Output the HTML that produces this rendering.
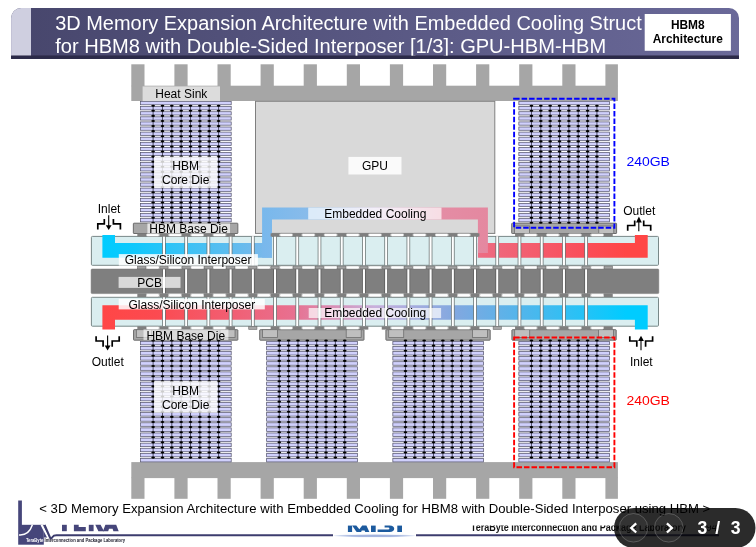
<!DOCTYPE html>
<html><head><meta charset="utf-8"><title>HBM8 Architecture</title>
<style>html,body{margin:0;padding:0;background:#fff;width:756px;height:547px;overflow:hidden}svg{display:block;font-family:"Liberation Sans",sans-serif;will-change:transform;transform:translateZ(0)}</style>
</head><body>
<svg width="756" height="547" viewBox="0 0 756 547">
<defs>
<g id="stkT">
<rect x="0.3" y="0.35" width="90.7" height="3.25" fill="#d0d0fc" stroke="#505068" stroke-width="0.7"/>
<rect x="0.3" y="5.44" width="90.7" height="3.25" fill="#d0d0fc" stroke="#505068" stroke-width="0.7"/>
<rect x="0.3" y="10.53" width="90.7" height="3.25" fill="#d0d0fc" stroke="#505068" stroke-width="0.7"/>
<rect x="0.3" y="15.62" width="90.7" height="3.25" fill="#d0d0fc" stroke="#505068" stroke-width="0.7"/>
<rect x="0.3" y="20.71" width="90.7" height="3.25" fill="#d0d0fc" stroke="#505068" stroke-width="0.7"/>
<rect x="0.3" y="25.8" width="90.7" height="3.25" fill="#d0d0fc" stroke="#505068" stroke-width="0.7"/>
<rect x="0.3" y="30.89" width="90.7" height="3.25" fill="#d0d0fc" stroke="#505068" stroke-width="0.7"/>
<rect x="0.3" y="35.98" width="90.7" height="3.25" fill="#d0d0fc" stroke="#505068" stroke-width="0.7"/>
<rect x="0.3" y="41.07" width="90.7" height="3.25" fill="#d0d0fc" stroke="#505068" stroke-width="0.7"/>
<rect x="0.3" y="46.16" width="90.7" height="3.25" fill="#d0d0fc" stroke="#505068" stroke-width="0.7"/>
<rect x="0.3" y="51.25" width="90.7" height="3.25" fill="#d0d0fc" stroke="#505068" stroke-width="0.7"/>
<rect x="0.3" y="56.34" width="90.7" height="3.25" fill="#d0d0fc" stroke="#505068" stroke-width="0.7"/>
<rect x="0.3" y="61.43" width="90.7" height="3.25" fill="#d0d0fc" stroke="#505068" stroke-width="0.7"/>
<rect x="0.3" y="66.52" width="90.7" height="3.25" fill="#d0d0fc" stroke="#505068" stroke-width="0.7"/>
<rect x="0.3" y="71.61" width="90.7" height="3.25" fill="#d0d0fc" stroke="#505068" stroke-width="0.7"/>
<rect x="0.3" y="76.7" width="90.7" height="3.25" fill="#d0d0fc" stroke="#505068" stroke-width="0.7"/>
<rect x="0.3" y="81.79" width="90.7" height="3.25" fill="#d0d0fc" stroke="#505068" stroke-width="0.7"/>
<rect x="0.3" y="86.88" width="90.7" height="3.25" fill="#d0d0fc" stroke="#505068" stroke-width="0.7"/>
<rect x="0.3" y="91.97" width="90.7" height="3.25" fill="#d0d0fc" stroke="#505068" stroke-width="0.7"/>
<rect x="0.3" y="97.06" width="90.7" height="3.25" fill="#d0d0fc" stroke="#505068" stroke-width="0.7"/>
<rect x="0.3" y="102.15" width="90.7" height="3.25" fill="#d0d0fc" stroke="#505068" stroke-width="0.7"/>
<rect x="0.3" y="107.24" width="90.7" height="3.25" fill="#d0d0fc" stroke="#505068" stroke-width="0.7"/>
<rect x="0.3" y="112.33" width="90.7" height="3.25" fill="#d0d0fc" stroke="#505068" stroke-width="0.7"/>
<rect x="0.3" y="117.42" width="90.7" height="3.25" fill="#d0d0fc" stroke="#505068" stroke-width="0.7"/>
<line x1="12.92" y1="3.95" x2="12.92" y2="121.62" stroke="#26263a" stroke-opacity="0.78" stroke-width="0.95"/>
<ellipse cx="12.92" cy="4.52" rx="1.85" ry="1.05" fill="#000"/>
<ellipse cx="12.92" cy="9.61" rx="1.85" ry="1.05" fill="#000"/>
<ellipse cx="12.92" cy="14.7" rx="1.85" ry="1.05" fill="#000"/>
<ellipse cx="12.92" cy="19.79" rx="1.85" ry="1.05" fill="#000"/>
<ellipse cx="12.92" cy="24.88" rx="1.85" ry="1.05" fill="#000"/>
<ellipse cx="12.92" cy="29.97" rx="1.85" ry="1.05" fill="#000"/>
<ellipse cx="12.92" cy="35.06" rx="1.85" ry="1.05" fill="#000"/>
<ellipse cx="12.92" cy="40.15" rx="1.85" ry="1.05" fill="#000"/>
<ellipse cx="12.92" cy="45.24" rx="1.85" ry="1.05" fill="#000"/>
<ellipse cx="12.92" cy="50.33" rx="1.85" ry="1.05" fill="#000"/>
<ellipse cx="12.92" cy="55.42" rx="1.85" ry="1.05" fill="#000"/>
<ellipse cx="12.92" cy="60.51" rx="1.85" ry="1.05" fill="#000"/>
<ellipse cx="12.92" cy="65.6" rx="1.85" ry="1.05" fill="#000"/>
<ellipse cx="12.92" cy="70.69" rx="1.85" ry="1.05" fill="#000"/>
<ellipse cx="12.92" cy="75.78" rx="1.85" ry="1.05" fill="#000"/>
<ellipse cx="12.92" cy="80.87" rx="1.85" ry="1.05" fill="#000"/>
<ellipse cx="12.92" cy="85.96" rx="1.85" ry="1.05" fill="#000"/>
<ellipse cx="12.92" cy="91.05" rx="1.85" ry="1.05" fill="#000"/>
<ellipse cx="12.92" cy="96.14" rx="1.85" ry="1.05" fill="#000"/>
<ellipse cx="12.92" cy="101.23" rx="1.85" ry="1.05" fill="#000"/>
<ellipse cx="12.92" cy="106.32" rx="1.85" ry="1.05" fill="#000"/>
<ellipse cx="12.92" cy="111.41" rx="1.85" ry="1.05" fill="#000"/>
<ellipse cx="12.92" cy="116.5" rx="1.85" ry="1.05" fill="#000"/>
<ellipse cx="12.92" cy="121.59" rx="1.85" ry="1.05" fill="#000"/>
<line x1="22.27" y1="3.95" x2="22.27" y2="121.62" stroke="#26263a" stroke-opacity="0.78" stroke-width="0.95"/>
<ellipse cx="22.27" cy="4.52" rx="1.85" ry="1.05" fill="#000"/>
<ellipse cx="22.27" cy="9.61" rx="1.85" ry="1.05" fill="#000"/>
<ellipse cx="22.27" cy="14.7" rx="1.85" ry="1.05" fill="#000"/>
<ellipse cx="22.27" cy="19.79" rx="1.85" ry="1.05" fill="#000"/>
<ellipse cx="22.27" cy="24.88" rx="1.85" ry="1.05" fill="#000"/>
<ellipse cx="22.27" cy="29.97" rx="1.85" ry="1.05" fill="#000"/>
<ellipse cx="22.27" cy="35.06" rx="1.85" ry="1.05" fill="#000"/>
<ellipse cx="22.27" cy="40.15" rx="1.85" ry="1.05" fill="#000"/>
<ellipse cx="22.27" cy="45.24" rx="1.85" ry="1.05" fill="#000"/>
<ellipse cx="22.27" cy="50.33" rx="1.85" ry="1.05" fill="#000"/>
<ellipse cx="22.27" cy="55.42" rx="1.85" ry="1.05" fill="#000"/>
<ellipse cx="22.27" cy="60.51" rx="1.85" ry="1.05" fill="#000"/>
<ellipse cx="22.27" cy="65.6" rx="1.85" ry="1.05" fill="#000"/>
<ellipse cx="22.27" cy="70.69" rx="1.85" ry="1.05" fill="#000"/>
<ellipse cx="22.27" cy="75.78" rx="1.85" ry="1.05" fill="#000"/>
<ellipse cx="22.27" cy="80.87" rx="1.85" ry="1.05" fill="#000"/>
<ellipse cx="22.27" cy="85.96" rx="1.85" ry="1.05" fill="#000"/>
<ellipse cx="22.27" cy="91.05" rx="1.85" ry="1.05" fill="#000"/>
<ellipse cx="22.27" cy="96.14" rx="1.85" ry="1.05" fill="#000"/>
<ellipse cx="22.27" cy="101.23" rx="1.85" ry="1.05" fill="#000"/>
<ellipse cx="22.27" cy="106.32" rx="1.85" ry="1.05" fill="#000"/>
<ellipse cx="22.27" cy="111.41" rx="1.85" ry="1.05" fill="#000"/>
<ellipse cx="22.27" cy="116.5" rx="1.85" ry="1.05" fill="#000"/>
<ellipse cx="22.27" cy="121.59" rx="1.85" ry="1.05" fill="#000"/>
<line x1="31.62" y1="3.95" x2="31.62" y2="121.62" stroke="#26263a" stroke-opacity="0.78" stroke-width="0.95"/>
<ellipse cx="31.62" cy="4.52" rx="1.85" ry="1.05" fill="#000"/>
<ellipse cx="31.62" cy="9.61" rx="1.85" ry="1.05" fill="#000"/>
<ellipse cx="31.62" cy="14.7" rx="1.85" ry="1.05" fill="#000"/>
<ellipse cx="31.62" cy="19.79" rx="1.85" ry="1.05" fill="#000"/>
<ellipse cx="31.62" cy="24.88" rx="1.85" ry="1.05" fill="#000"/>
<ellipse cx="31.62" cy="29.97" rx="1.85" ry="1.05" fill="#000"/>
<ellipse cx="31.62" cy="35.06" rx="1.85" ry="1.05" fill="#000"/>
<ellipse cx="31.62" cy="40.15" rx="1.85" ry="1.05" fill="#000"/>
<ellipse cx="31.62" cy="45.24" rx="1.85" ry="1.05" fill="#000"/>
<ellipse cx="31.62" cy="50.33" rx="1.85" ry="1.05" fill="#000"/>
<ellipse cx="31.62" cy="55.42" rx="1.85" ry="1.05" fill="#000"/>
<ellipse cx="31.62" cy="60.51" rx="1.85" ry="1.05" fill="#000"/>
<ellipse cx="31.62" cy="65.6" rx="1.85" ry="1.05" fill="#000"/>
<ellipse cx="31.62" cy="70.69" rx="1.85" ry="1.05" fill="#000"/>
<ellipse cx="31.62" cy="75.78" rx="1.85" ry="1.05" fill="#000"/>
<ellipse cx="31.62" cy="80.87" rx="1.85" ry="1.05" fill="#000"/>
<ellipse cx="31.62" cy="85.96" rx="1.85" ry="1.05" fill="#000"/>
<ellipse cx="31.62" cy="91.05" rx="1.85" ry="1.05" fill="#000"/>
<ellipse cx="31.62" cy="96.14" rx="1.85" ry="1.05" fill="#000"/>
<ellipse cx="31.62" cy="101.23" rx="1.85" ry="1.05" fill="#000"/>
<ellipse cx="31.62" cy="106.32" rx="1.85" ry="1.05" fill="#000"/>
<ellipse cx="31.62" cy="111.41" rx="1.85" ry="1.05" fill="#000"/>
<ellipse cx="31.62" cy="116.5" rx="1.85" ry="1.05" fill="#000"/>
<ellipse cx="31.62" cy="121.59" rx="1.85" ry="1.05" fill="#000"/>
<line x1="40.98" y1="3.95" x2="40.98" y2="121.62" stroke="#26263a" stroke-opacity="0.78" stroke-width="0.95"/>
<ellipse cx="40.98" cy="4.52" rx="1.85" ry="1.05" fill="#000"/>
<ellipse cx="40.98" cy="9.61" rx="1.85" ry="1.05" fill="#000"/>
<ellipse cx="40.98" cy="14.7" rx="1.85" ry="1.05" fill="#000"/>
<ellipse cx="40.98" cy="19.79" rx="1.85" ry="1.05" fill="#000"/>
<ellipse cx="40.98" cy="24.88" rx="1.85" ry="1.05" fill="#000"/>
<ellipse cx="40.98" cy="29.97" rx="1.85" ry="1.05" fill="#000"/>
<ellipse cx="40.98" cy="35.06" rx="1.85" ry="1.05" fill="#000"/>
<ellipse cx="40.98" cy="40.15" rx="1.85" ry="1.05" fill="#000"/>
<ellipse cx="40.98" cy="45.24" rx="1.85" ry="1.05" fill="#000"/>
<ellipse cx="40.98" cy="50.33" rx="1.85" ry="1.05" fill="#000"/>
<ellipse cx="40.98" cy="55.42" rx="1.85" ry="1.05" fill="#000"/>
<ellipse cx="40.98" cy="60.51" rx="1.85" ry="1.05" fill="#000"/>
<ellipse cx="40.98" cy="65.6" rx="1.85" ry="1.05" fill="#000"/>
<ellipse cx="40.98" cy="70.69" rx="1.85" ry="1.05" fill="#000"/>
<ellipse cx="40.98" cy="75.78" rx="1.85" ry="1.05" fill="#000"/>
<ellipse cx="40.98" cy="80.87" rx="1.85" ry="1.05" fill="#000"/>
<ellipse cx="40.98" cy="85.96" rx="1.85" ry="1.05" fill="#000"/>
<ellipse cx="40.98" cy="91.05" rx="1.85" ry="1.05" fill="#000"/>
<ellipse cx="40.98" cy="96.14" rx="1.85" ry="1.05" fill="#000"/>
<ellipse cx="40.98" cy="101.23" rx="1.85" ry="1.05" fill="#000"/>
<ellipse cx="40.98" cy="106.32" rx="1.85" ry="1.05" fill="#000"/>
<ellipse cx="40.98" cy="111.41" rx="1.85" ry="1.05" fill="#000"/>
<ellipse cx="40.98" cy="116.5" rx="1.85" ry="1.05" fill="#000"/>
<ellipse cx="40.98" cy="121.59" rx="1.85" ry="1.05" fill="#000"/>
<line x1="50.32" y1="3.95" x2="50.32" y2="121.62" stroke="#26263a" stroke-opacity="0.78" stroke-width="0.95"/>
<ellipse cx="50.32" cy="4.52" rx="1.85" ry="1.05" fill="#000"/>
<ellipse cx="50.32" cy="9.61" rx="1.85" ry="1.05" fill="#000"/>
<ellipse cx="50.32" cy="14.7" rx="1.85" ry="1.05" fill="#000"/>
<ellipse cx="50.32" cy="19.79" rx="1.85" ry="1.05" fill="#000"/>
<ellipse cx="50.32" cy="24.88" rx="1.85" ry="1.05" fill="#000"/>
<ellipse cx="50.32" cy="29.97" rx="1.85" ry="1.05" fill="#000"/>
<ellipse cx="50.32" cy="35.06" rx="1.85" ry="1.05" fill="#000"/>
<ellipse cx="50.32" cy="40.15" rx="1.85" ry="1.05" fill="#000"/>
<ellipse cx="50.32" cy="45.24" rx="1.85" ry="1.05" fill="#000"/>
<ellipse cx="50.32" cy="50.33" rx="1.85" ry="1.05" fill="#000"/>
<ellipse cx="50.32" cy="55.42" rx="1.85" ry="1.05" fill="#000"/>
<ellipse cx="50.32" cy="60.51" rx="1.85" ry="1.05" fill="#000"/>
<ellipse cx="50.32" cy="65.6" rx="1.85" ry="1.05" fill="#000"/>
<ellipse cx="50.32" cy="70.69" rx="1.85" ry="1.05" fill="#000"/>
<ellipse cx="50.32" cy="75.78" rx="1.85" ry="1.05" fill="#000"/>
<ellipse cx="50.32" cy="80.87" rx="1.85" ry="1.05" fill="#000"/>
<ellipse cx="50.32" cy="85.96" rx="1.85" ry="1.05" fill="#000"/>
<ellipse cx="50.32" cy="91.05" rx="1.85" ry="1.05" fill="#000"/>
<ellipse cx="50.32" cy="96.14" rx="1.85" ry="1.05" fill="#000"/>
<ellipse cx="50.32" cy="101.23" rx="1.85" ry="1.05" fill="#000"/>
<ellipse cx="50.32" cy="106.32" rx="1.85" ry="1.05" fill="#000"/>
<ellipse cx="50.32" cy="111.41" rx="1.85" ry="1.05" fill="#000"/>
<ellipse cx="50.32" cy="116.5" rx="1.85" ry="1.05" fill="#000"/>
<ellipse cx="50.32" cy="121.59" rx="1.85" ry="1.05" fill="#000"/>
<line x1="59.67" y1="3.95" x2="59.67" y2="121.62" stroke="#26263a" stroke-opacity="0.78" stroke-width="0.95"/>
<ellipse cx="59.67" cy="4.52" rx="1.85" ry="1.05" fill="#000"/>
<ellipse cx="59.67" cy="9.61" rx="1.85" ry="1.05" fill="#000"/>
<ellipse cx="59.67" cy="14.7" rx="1.85" ry="1.05" fill="#000"/>
<ellipse cx="59.67" cy="19.79" rx="1.85" ry="1.05" fill="#000"/>
<ellipse cx="59.67" cy="24.88" rx="1.85" ry="1.05" fill="#000"/>
<ellipse cx="59.67" cy="29.97" rx="1.85" ry="1.05" fill="#000"/>
<ellipse cx="59.67" cy="35.06" rx="1.85" ry="1.05" fill="#000"/>
<ellipse cx="59.67" cy="40.15" rx="1.85" ry="1.05" fill="#000"/>
<ellipse cx="59.67" cy="45.24" rx="1.85" ry="1.05" fill="#000"/>
<ellipse cx="59.67" cy="50.33" rx="1.85" ry="1.05" fill="#000"/>
<ellipse cx="59.67" cy="55.42" rx="1.85" ry="1.05" fill="#000"/>
<ellipse cx="59.67" cy="60.51" rx="1.85" ry="1.05" fill="#000"/>
<ellipse cx="59.67" cy="65.6" rx="1.85" ry="1.05" fill="#000"/>
<ellipse cx="59.67" cy="70.69" rx="1.85" ry="1.05" fill="#000"/>
<ellipse cx="59.67" cy="75.78" rx="1.85" ry="1.05" fill="#000"/>
<ellipse cx="59.67" cy="80.87" rx="1.85" ry="1.05" fill="#000"/>
<ellipse cx="59.67" cy="85.96" rx="1.85" ry="1.05" fill="#000"/>
<ellipse cx="59.67" cy="91.05" rx="1.85" ry="1.05" fill="#000"/>
<ellipse cx="59.67" cy="96.14" rx="1.85" ry="1.05" fill="#000"/>
<ellipse cx="59.67" cy="101.23" rx="1.85" ry="1.05" fill="#000"/>
<ellipse cx="59.67" cy="106.32" rx="1.85" ry="1.05" fill="#000"/>
<ellipse cx="59.67" cy="111.41" rx="1.85" ry="1.05" fill="#000"/>
<ellipse cx="59.67" cy="116.5" rx="1.85" ry="1.05" fill="#000"/>
<ellipse cx="59.67" cy="121.59" rx="1.85" ry="1.05" fill="#000"/>
<line x1="69.03" y1="3.95" x2="69.03" y2="121.62" stroke="#26263a" stroke-opacity="0.78" stroke-width="0.95"/>
<ellipse cx="69.03" cy="4.52" rx="1.85" ry="1.05" fill="#000"/>
<ellipse cx="69.03" cy="9.61" rx="1.85" ry="1.05" fill="#000"/>
<ellipse cx="69.03" cy="14.7" rx="1.85" ry="1.05" fill="#000"/>
<ellipse cx="69.03" cy="19.79" rx="1.85" ry="1.05" fill="#000"/>
<ellipse cx="69.03" cy="24.88" rx="1.85" ry="1.05" fill="#000"/>
<ellipse cx="69.03" cy="29.97" rx="1.85" ry="1.05" fill="#000"/>
<ellipse cx="69.03" cy="35.06" rx="1.85" ry="1.05" fill="#000"/>
<ellipse cx="69.03" cy="40.15" rx="1.85" ry="1.05" fill="#000"/>
<ellipse cx="69.03" cy="45.24" rx="1.85" ry="1.05" fill="#000"/>
<ellipse cx="69.03" cy="50.33" rx="1.85" ry="1.05" fill="#000"/>
<ellipse cx="69.03" cy="55.42" rx="1.85" ry="1.05" fill="#000"/>
<ellipse cx="69.03" cy="60.51" rx="1.85" ry="1.05" fill="#000"/>
<ellipse cx="69.03" cy="65.6" rx="1.85" ry="1.05" fill="#000"/>
<ellipse cx="69.03" cy="70.69" rx="1.85" ry="1.05" fill="#000"/>
<ellipse cx="69.03" cy="75.78" rx="1.85" ry="1.05" fill="#000"/>
<ellipse cx="69.03" cy="80.87" rx="1.85" ry="1.05" fill="#000"/>
<ellipse cx="69.03" cy="85.96" rx="1.85" ry="1.05" fill="#000"/>
<ellipse cx="69.03" cy="91.05" rx="1.85" ry="1.05" fill="#000"/>
<ellipse cx="69.03" cy="96.14" rx="1.85" ry="1.05" fill="#000"/>
<ellipse cx="69.03" cy="101.23" rx="1.85" ry="1.05" fill="#000"/>
<ellipse cx="69.03" cy="106.32" rx="1.85" ry="1.05" fill="#000"/>
<ellipse cx="69.03" cy="111.41" rx="1.85" ry="1.05" fill="#000"/>
<ellipse cx="69.03" cy="116.5" rx="1.85" ry="1.05" fill="#000"/>
<ellipse cx="69.03" cy="121.59" rx="1.85" ry="1.05" fill="#000"/>
<line x1="78.38" y1="3.95" x2="78.38" y2="121.62" stroke="#26263a" stroke-opacity="0.78" stroke-width="0.95"/>
<ellipse cx="78.38" cy="4.52" rx="1.85" ry="1.05" fill="#000"/>
<ellipse cx="78.38" cy="9.61" rx="1.85" ry="1.05" fill="#000"/>
<ellipse cx="78.38" cy="14.7" rx="1.85" ry="1.05" fill="#000"/>
<ellipse cx="78.38" cy="19.79" rx="1.85" ry="1.05" fill="#000"/>
<ellipse cx="78.38" cy="24.88" rx="1.85" ry="1.05" fill="#000"/>
<ellipse cx="78.38" cy="29.97" rx="1.85" ry="1.05" fill="#000"/>
<ellipse cx="78.38" cy="35.06" rx="1.85" ry="1.05" fill="#000"/>
<ellipse cx="78.38" cy="40.15" rx="1.85" ry="1.05" fill="#000"/>
<ellipse cx="78.38" cy="45.24" rx="1.85" ry="1.05" fill="#000"/>
<ellipse cx="78.38" cy="50.33" rx="1.85" ry="1.05" fill="#000"/>
<ellipse cx="78.38" cy="55.42" rx="1.85" ry="1.05" fill="#000"/>
<ellipse cx="78.38" cy="60.51" rx="1.85" ry="1.05" fill="#000"/>
<ellipse cx="78.38" cy="65.6" rx="1.85" ry="1.05" fill="#000"/>
<ellipse cx="78.38" cy="70.69" rx="1.85" ry="1.05" fill="#000"/>
<ellipse cx="78.38" cy="75.78" rx="1.85" ry="1.05" fill="#000"/>
<ellipse cx="78.38" cy="80.87" rx="1.85" ry="1.05" fill="#000"/>
<ellipse cx="78.38" cy="85.96" rx="1.85" ry="1.05" fill="#000"/>
<ellipse cx="78.38" cy="91.05" rx="1.85" ry="1.05" fill="#000"/>
<ellipse cx="78.38" cy="96.14" rx="1.85" ry="1.05" fill="#000"/>
<ellipse cx="78.38" cy="101.23" rx="1.85" ry="1.05" fill="#000"/>
<ellipse cx="78.38" cy="106.32" rx="1.85" ry="1.05" fill="#000"/>
<ellipse cx="78.38" cy="111.41" rx="1.85" ry="1.05" fill="#000"/>
<ellipse cx="78.38" cy="116.5" rx="1.85" ry="1.05" fill="#000"/>
<ellipse cx="78.38" cy="121.59" rx="1.85" ry="1.05" fill="#000"/>
</g>
<g id="stkB">
<rect x="0.3" y="0.35" width="90.7" height="3.5" fill="#d0d0fc" stroke="#505068" stroke-width="0.7"/>
<rect x="0.3" y="5.44" width="90.7" height="3.5" fill="#d0d0fc" stroke="#505068" stroke-width="0.7"/>
<rect x="0.3" y="10.53" width="90.7" height="3.5" fill="#d0d0fc" stroke="#505068" stroke-width="0.7"/>
<rect x="0.3" y="15.62" width="90.7" height="3.5" fill="#d0d0fc" stroke="#505068" stroke-width="0.7"/>
<rect x="0.3" y="20.71" width="90.7" height="3.5" fill="#d0d0fc" stroke="#505068" stroke-width="0.7"/>
<rect x="0.3" y="25.8" width="90.7" height="3.5" fill="#d0d0fc" stroke="#505068" stroke-width="0.7"/>
<rect x="0.3" y="30.89" width="90.7" height="3.5" fill="#d0d0fc" stroke="#505068" stroke-width="0.7"/>
<rect x="0.3" y="35.98" width="90.7" height="3.5" fill="#d0d0fc" stroke="#505068" stroke-width="0.7"/>
<rect x="0.3" y="41.07" width="90.7" height="3.5" fill="#d0d0fc" stroke="#505068" stroke-width="0.7"/>
<rect x="0.3" y="46.16" width="90.7" height="3.5" fill="#d0d0fc" stroke="#505068" stroke-width="0.7"/>
<rect x="0.3" y="51.25" width="90.7" height="3.5" fill="#d0d0fc" stroke="#505068" stroke-width="0.7"/>
<rect x="0.3" y="56.34" width="90.7" height="3.5" fill="#d0d0fc" stroke="#505068" stroke-width="0.7"/>
<rect x="0.3" y="61.43" width="90.7" height="3.5" fill="#d0d0fc" stroke="#505068" stroke-width="0.7"/>
<rect x="0.3" y="66.52" width="90.7" height="3.5" fill="#d0d0fc" stroke="#505068" stroke-width="0.7"/>
<rect x="0.3" y="71.61" width="90.7" height="3.5" fill="#d0d0fc" stroke="#505068" stroke-width="0.7"/>
<rect x="0.3" y="76.7" width="90.7" height="3.5" fill="#d0d0fc" stroke="#505068" stroke-width="0.7"/>
<rect x="0.3" y="81.79" width="90.7" height="3.5" fill="#d0d0fc" stroke="#505068" stroke-width="0.7"/>
<rect x="0.3" y="86.88" width="90.7" height="3.5" fill="#d0d0fc" stroke="#505068" stroke-width="0.7"/>
<rect x="0.3" y="91.97" width="90.7" height="3.5" fill="#d0d0fc" stroke="#505068" stroke-width="0.7"/>
<rect x="0.3" y="97.06" width="90.7" height="3.5" fill="#d0d0fc" stroke="#505068" stroke-width="0.7"/>
<rect x="0.3" y="102.15" width="90.7" height="3.5" fill="#d0d0fc" stroke="#505068" stroke-width="0.7"/>
<rect x="0.3" y="107.24" width="90.7" height="3.5" fill="#d0d0fc" stroke="#505068" stroke-width="0.7"/>
<rect x="0.3" y="112.33" width="90.7" height="3.5" fill="#d0d0fc" stroke="#505068" stroke-width="0.7"/>
<rect x="0.3" y="117.42" width="90.7" height="3.5" fill="#d0d0fc" stroke="#505068" stroke-width="0.7"/>
<line x1="12.92" y1="-0.6" x2="12.92" y2="117.07" stroke="#26263a" stroke-opacity="0.78" stroke-width="0.95"/>
<ellipse cx="12.92" cy="-0.44" rx="1.85" ry="1.05" fill="#000"/>
<ellipse cx="12.92" cy="4.64" rx="1.85" ry="1.05" fill="#000"/>
<ellipse cx="12.92" cy="9.73" rx="1.85" ry="1.05" fill="#000"/>
<ellipse cx="12.92" cy="14.82" rx="1.85" ry="1.05" fill="#000"/>
<ellipse cx="12.92" cy="19.91" rx="1.85" ry="1.05" fill="#000"/>
<ellipse cx="12.92" cy="25" rx="1.85" ry="1.05" fill="#000"/>
<ellipse cx="12.92" cy="30.09" rx="1.85" ry="1.05" fill="#000"/>
<ellipse cx="12.92" cy="35.18" rx="1.85" ry="1.05" fill="#000"/>
<ellipse cx="12.92" cy="40.27" rx="1.85" ry="1.05" fill="#000"/>
<ellipse cx="12.92" cy="45.37" rx="1.85" ry="1.05" fill="#000"/>
<ellipse cx="12.92" cy="50.45" rx="1.85" ry="1.05" fill="#000"/>
<ellipse cx="12.92" cy="55.54" rx="1.85" ry="1.05" fill="#000"/>
<ellipse cx="12.92" cy="60.63" rx="1.85" ry="1.05" fill="#000"/>
<ellipse cx="12.92" cy="65.73" rx="1.85" ry="1.05" fill="#000"/>
<ellipse cx="12.92" cy="70.81" rx="1.85" ry="1.05" fill="#000"/>
<ellipse cx="12.92" cy="75.91" rx="1.85" ry="1.05" fill="#000"/>
<ellipse cx="12.92" cy="81" rx="1.85" ry="1.05" fill="#000"/>
<ellipse cx="12.92" cy="86.09" rx="1.85" ry="1.05" fill="#000"/>
<ellipse cx="12.92" cy="91.18" rx="1.85" ry="1.05" fill="#000"/>
<ellipse cx="12.92" cy="96.27" rx="1.85" ry="1.05" fill="#000"/>
<ellipse cx="12.92" cy="101.36" rx="1.85" ry="1.05" fill="#000"/>
<ellipse cx="12.92" cy="106.45" rx="1.85" ry="1.05" fill="#000"/>
<ellipse cx="12.92" cy="111.53" rx="1.85" ry="1.05" fill="#000"/>
<ellipse cx="12.92" cy="116.62" rx="1.85" ry="1.05" fill="#000"/>
<line x1="22.27" y1="-0.6" x2="22.27" y2="117.07" stroke="#26263a" stroke-opacity="0.78" stroke-width="0.95"/>
<ellipse cx="22.27" cy="-0.44" rx="1.85" ry="1.05" fill="#000"/>
<ellipse cx="22.27" cy="4.64" rx="1.85" ry="1.05" fill="#000"/>
<ellipse cx="22.27" cy="9.73" rx="1.85" ry="1.05" fill="#000"/>
<ellipse cx="22.27" cy="14.82" rx="1.85" ry="1.05" fill="#000"/>
<ellipse cx="22.27" cy="19.91" rx="1.85" ry="1.05" fill="#000"/>
<ellipse cx="22.27" cy="25" rx="1.85" ry="1.05" fill="#000"/>
<ellipse cx="22.27" cy="30.09" rx="1.85" ry="1.05" fill="#000"/>
<ellipse cx="22.27" cy="35.18" rx="1.85" ry="1.05" fill="#000"/>
<ellipse cx="22.27" cy="40.27" rx="1.85" ry="1.05" fill="#000"/>
<ellipse cx="22.27" cy="45.37" rx="1.85" ry="1.05" fill="#000"/>
<ellipse cx="22.27" cy="50.45" rx="1.85" ry="1.05" fill="#000"/>
<ellipse cx="22.27" cy="55.54" rx="1.85" ry="1.05" fill="#000"/>
<ellipse cx="22.27" cy="60.63" rx="1.85" ry="1.05" fill="#000"/>
<ellipse cx="22.27" cy="65.73" rx="1.85" ry="1.05" fill="#000"/>
<ellipse cx="22.27" cy="70.81" rx="1.85" ry="1.05" fill="#000"/>
<ellipse cx="22.27" cy="75.91" rx="1.85" ry="1.05" fill="#000"/>
<ellipse cx="22.27" cy="81" rx="1.85" ry="1.05" fill="#000"/>
<ellipse cx="22.27" cy="86.09" rx="1.85" ry="1.05" fill="#000"/>
<ellipse cx="22.27" cy="91.18" rx="1.85" ry="1.05" fill="#000"/>
<ellipse cx="22.27" cy="96.27" rx="1.85" ry="1.05" fill="#000"/>
<ellipse cx="22.27" cy="101.36" rx="1.85" ry="1.05" fill="#000"/>
<ellipse cx="22.27" cy="106.45" rx="1.85" ry="1.05" fill="#000"/>
<ellipse cx="22.27" cy="111.53" rx="1.85" ry="1.05" fill="#000"/>
<ellipse cx="22.27" cy="116.62" rx="1.85" ry="1.05" fill="#000"/>
<line x1="31.62" y1="-0.6" x2="31.62" y2="117.07" stroke="#26263a" stroke-opacity="0.78" stroke-width="0.95"/>
<ellipse cx="31.62" cy="-0.44" rx="1.85" ry="1.05" fill="#000"/>
<ellipse cx="31.62" cy="4.64" rx="1.85" ry="1.05" fill="#000"/>
<ellipse cx="31.62" cy="9.73" rx="1.85" ry="1.05" fill="#000"/>
<ellipse cx="31.62" cy="14.82" rx="1.85" ry="1.05" fill="#000"/>
<ellipse cx="31.62" cy="19.91" rx="1.85" ry="1.05" fill="#000"/>
<ellipse cx="31.62" cy="25" rx="1.85" ry="1.05" fill="#000"/>
<ellipse cx="31.62" cy="30.09" rx="1.85" ry="1.05" fill="#000"/>
<ellipse cx="31.62" cy="35.18" rx="1.85" ry="1.05" fill="#000"/>
<ellipse cx="31.62" cy="40.27" rx="1.85" ry="1.05" fill="#000"/>
<ellipse cx="31.62" cy="45.37" rx="1.85" ry="1.05" fill="#000"/>
<ellipse cx="31.62" cy="50.45" rx="1.85" ry="1.05" fill="#000"/>
<ellipse cx="31.62" cy="55.54" rx="1.85" ry="1.05" fill="#000"/>
<ellipse cx="31.62" cy="60.63" rx="1.85" ry="1.05" fill="#000"/>
<ellipse cx="31.62" cy="65.73" rx="1.85" ry="1.05" fill="#000"/>
<ellipse cx="31.62" cy="70.81" rx="1.85" ry="1.05" fill="#000"/>
<ellipse cx="31.62" cy="75.91" rx="1.85" ry="1.05" fill="#000"/>
<ellipse cx="31.62" cy="81" rx="1.85" ry="1.05" fill="#000"/>
<ellipse cx="31.62" cy="86.09" rx="1.85" ry="1.05" fill="#000"/>
<ellipse cx="31.62" cy="91.18" rx="1.85" ry="1.05" fill="#000"/>
<ellipse cx="31.62" cy="96.27" rx="1.85" ry="1.05" fill="#000"/>
<ellipse cx="31.62" cy="101.36" rx="1.85" ry="1.05" fill="#000"/>
<ellipse cx="31.62" cy="106.45" rx="1.85" ry="1.05" fill="#000"/>
<ellipse cx="31.62" cy="111.53" rx="1.85" ry="1.05" fill="#000"/>
<ellipse cx="31.62" cy="116.62" rx="1.85" ry="1.05" fill="#000"/>
<line x1="40.98" y1="-0.6" x2="40.98" y2="117.07" stroke="#26263a" stroke-opacity="0.78" stroke-width="0.95"/>
<ellipse cx="40.98" cy="-0.44" rx="1.85" ry="1.05" fill="#000"/>
<ellipse cx="40.98" cy="4.64" rx="1.85" ry="1.05" fill="#000"/>
<ellipse cx="40.98" cy="9.73" rx="1.85" ry="1.05" fill="#000"/>
<ellipse cx="40.98" cy="14.82" rx="1.85" ry="1.05" fill="#000"/>
<ellipse cx="40.98" cy="19.91" rx="1.85" ry="1.05" fill="#000"/>
<ellipse cx="40.98" cy="25" rx="1.85" ry="1.05" fill="#000"/>
<ellipse cx="40.98" cy="30.09" rx="1.85" ry="1.05" fill="#000"/>
<ellipse cx="40.98" cy="35.18" rx="1.85" ry="1.05" fill="#000"/>
<ellipse cx="40.98" cy="40.27" rx="1.85" ry="1.05" fill="#000"/>
<ellipse cx="40.98" cy="45.37" rx="1.85" ry="1.05" fill="#000"/>
<ellipse cx="40.98" cy="50.45" rx="1.85" ry="1.05" fill="#000"/>
<ellipse cx="40.98" cy="55.54" rx="1.85" ry="1.05" fill="#000"/>
<ellipse cx="40.98" cy="60.63" rx="1.85" ry="1.05" fill="#000"/>
<ellipse cx="40.98" cy="65.73" rx="1.85" ry="1.05" fill="#000"/>
<ellipse cx="40.98" cy="70.81" rx="1.85" ry="1.05" fill="#000"/>
<ellipse cx="40.98" cy="75.91" rx="1.85" ry="1.05" fill="#000"/>
<ellipse cx="40.98" cy="81" rx="1.85" ry="1.05" fill="#000"/>
<ellipse cx="40.98" cy="86.09" rx="1.85" ry="1.05" fill="#000"/>
<ellipse cx="40.98" cy="91.18" rx="1.85" ry="1.05" fill="#000"/>
<ellipse cx="40.98" cy="96.27" rx="1.85" ry="1.05" fill="#000"/>
<ellipse cx="40.98" cy="101.36" rx="1.85" ry="1.05" fill="#000"/>
<ellipse cx="40.98" cy="106.45" rx="1.85" ry="1.05" fill="#000"/>
<ellipse cx="40.98" cy="111.53" rx="1.85" ry="1.05" fill="#000"/>
<ellipse cx="40.98" cy="116.62" rx="1.85" ry="1.05" fill="#000"/>
<line x1="50.32" y1="-0.6" x2="50.32" y2="117.07" stroke="#26263a" stroke-opacity="0.78" stroke-width="0.95"/>
<ellipse cx="50.32" cy="-0.44" rx="1.85" ry="1.05" fill="#000"/>
<ellipse cx="50.32" cy="4.64" rx="1.85" ry="1.05" fill="#000"/>
<ellipse cx="50.32" cy="9.73" rx="1.85" ry="1.05" fill="#000"/>
<ellipse cx="50.32" cy="14.82" rx="1.85" ry="1.05" fill="#000"/>
<ellipse cx="50.32" cy="19.91" rx="1.85" ry="1.05" fill="#000"/>
<ellipse cx="50.32" cy="25" rx="1.85" ry="1.05" fill="#000"/>
<ellipse cx="50.32" cy="30.09" rx="1.85" ry="1.05" fill="#000"/>
<ellipse cx="50.32" cy="35.18" rx="1.85" ry="1.05" fill="#000"/>
<ellipse cx="50.32" cy="40.27" rx="1.85" ry="1.05" fill="#000"/>
<ellipse cx="50.32" cy="45.37" rx="1.85" ry="1.05" fill="#000"/>
<ellipse cx="50.32" cy="50.45" rx="1.85" ry="1.05" fill="#000"/>
<ellipse cx="50.32" cy="55.54" rx="1.85" ry="1.05" fill="#000"/>
<ellipse cx="50.32" cy="60.63" rx="1.85" ry="1.05" fill="#000"/>
<ellipse cx="50.32" cy="65.73" rx="1.85" ry="1.05" fill="#000"/>
<ellipse cx="50.32" cy="70.81" rx="1.85" ry="1.05" fill="#000"/>
<ellipse cx="50.32" cy="75.91" rx="1.85" ry="1.05" fill="#000"/>
<ellipse cx="50.32" cy="81" rx="1.85" ry="1.05" fill="#000"/>
<ellipse cx="50.32" cy="86.09" rx="1.85" ry="1.05" fill="#000"/>
<ellipse cx="50.32" cy="91.18" rx="1.85" ry="1.05" fill="#000"/>
<ellipse cx="50.32" cy="96.27" rx="1.85" ry="1.05" fill="#000"/>
<ellipse cx="50.32" cy="101.36" rx="1.85" ry="1.05" fill="#000"/>
<ellipse cx="50.32" cy="106.45" rx="1.85" ry="1.05" fill="#000"/>
<ellipse cx="50.32" cy="111.53" rx="1.85" ry="1.05" fill="#000"/>
<ellipse cx="50.32" cy="116.62" rx="1.85" ry="1.05" fill="#000"/>
<line x1="59.67" y1="-0.6" x2="59.67" y2="117.07" stroke="#26263a" stroke-opacity="0.78" stroke-width="0.95"/>
<ellipse cx="59.67" cy="-0.44" rx="1.85" ry="1.05" fill="#000"/>
<ellipse cx="59.67" cy="4.64" rx="1.85" ry="1.05" fill="#000"/>
<ellipse cx="59.67" cy="9.73" rx="1.85" ry="1.05" fill="#000"/>
<ellipse cx="59.67" cy="14.82" rx="1.85" ry="1.05" fill="#000"/>
<ellipse cx="59.67" cy="19.91" rx="1.85" ry="1.05" fill="#000"/>
<ellipse cx="59.67" cy="25" rx="1.85" ry="1.05" fill="#000"/>
<ellipse cx="59.67" cy="30.09" rx="1.85" ry="1.05" fill="#000"/>
<ellipse cx="59.67" cy="35.18" rx="1.85" ry="1.05" fill="#000"/>
<ellipse cx="59.67" cy="40.27" rx="1.85" ry="1.05" fill="#000"/>
<ellipse cx="59.67" cy="45.37" rx="1.85" ry="1.05" fill="#000"/>
<ellipse cx="59.67" cy="50.45" rx="1.85" ry="1.05" fill="#000"/>
<ellipse cx="59.67" cy="55.54" rx="1.85" ry="1.05" fill="#000"/>
<ellipse cx="59.67" cy="60.63" rx="1.85" ry="1.05" fill="#000"/>
<ellipse cx="59.67" cy="65.73" rx="1.85" ry="1.05" fill="#000"/>
<ellipse cx="59.67" cy="70.81" rx="1.85" ry="1.05" fill="#000"/>
<ellipse cx="59.67" cy="75.91" rx="1.85" ry="1.05" fill="#000"/>
<ellipse cx="59.67" cy="81" rx="1.85" ry="1.05" fill="#000"/>
<ellipse cx="59.67" cy="86.09" rx="1.85" ry="1.05" fill="#000"/>
<ellipse cx="59.67" cy="91.18" rx="1.85" ry="1.05" fill="#000"/>
<ellipse cx="59.67" cy="96.27" rx="1.85" ry="1.05" fill="#000"/>
<ellipse cx="59.67" cy="101.36" rx="1.85" ry="1.05" fill="#000"/>
<ellipse cx="59.67" cy="106.45" rx="1.85" ry="1.05" fill="#000"/>
<ellipse cx="59.67" cy="111.53" rx="1.85" ry="1.05" fill="#000"/>
<ellipse cx="59.67" cy="116.62" rx="1.85" ry="1.05" fill="#000"/>
<line x1="69.03" y1="-0.6" x2="69.03" y2="117.07" stroke="#26263a" stroke-opacity="0.78" stroke-width="0.95"/>
<ellipse cx="69.03" cy="-0.44" rx="1.85" ry="1.05" fill="#000"/>
<ellipse cx="69.03" cy="4.64" rx="1.85" ry="1.05" fill="#000"/>
<ellipse cx="69.03" cy="9.73" rx="1.85" ry="1.05" fill="#000"/>
<ellipse cx="69.03" cy="14.82" rx="1.85" ry="1.05" fill="#000"/>
<ellipse cx="69.03" cy="19.91" rx="1.85" ry="1.05" fill="#000"/>
<ellipse cx="69.03" cy="25" rx="1.85" ry="1.05" fill="#000"/>
<ellipse cx="69.03" cy="30.09" rx="1.85" ry="1.05" fill="#000"/>
<ellipse cx="69.03" cy="35.18" rx="1.85" ry="1.05" fill="#000"/>
<ellipse cx="69.03" cy="40.27" rx="1.85" ry="1.05" fill="#000"/>
<ellipse cx="69.03" cy="45.37" rx="1.85" ry="1.05" fill="#000"/>
<ellipse cx="69.03" cy="50.45" rx="1.85" ry="1.05" fill="#000"/>
<ellipse cx="69.03" cy="55.54" rx="1.85" ry="1.05" fill="#000"/>
<ellipse cx="69.03" cy="60.63" rx="1.85" ry="1.05" fill="#000"/>
<ellipse cx="69.03" cy="65.73" rx="1.85" ry="1.05" fill="#000"/>
<ellipse cx="69.03" cy="70.81" rx="1.85" ry="1.05" fill="#000"/>
<ellipse cx="69.03" cy="75.91" rx="1.85" ry="1.05" fill="#000"/>
<ellipse cx="69.03" cy="81" rx="1.85" ry="1.05" fill="#000"/>
<ellipse cx="69.03" cy="86.09" rx="1.85" ry="1.05" fill="#000"/>
<ellipse cx="69.03" cy="91.18" rx="1.85" ry="1.05" fill="#000"/>
<ellipse cx="69.03" cy="96.27" rx="1.85" ry="1.05" fill="#000"/>
<ellipse cx="69.03" cy="101.36" rx="1.85" ry="1.05" fill="#000"/>
<ellipse cx="69.03" cy="106.45" rx="1.85" ry="1.05" fill="#000"/>
<ellipse cx="69.03" cy="111.53" rx="1.85" ry="1.05" fill="#000"/>
<ellipse cx="69.03" cy="116.62" rx="1.85" ry="1.05" fill="#000"/>
<line x1="78.38" y1="-0.6" x2="78.38" y2="117.07" stroke="#26263a" stroke-opacity="0.78" stroke-width="0.95"/>
<ellipse cx="78.38" cy="-0.44" rx="1.85" ry="1.05" fill="#000"/>
<ellipse cx="78.38" cy="4.64" rx="1.85" ry="1.05" fill="#000"/>
<ellipse cx="78.38" cy="9.73" rx="1.85" ry="1.05" fill="#000"/>
<ellipse cx="78.38" cy="14.82" rx="1.85" ry="1.05" fill="#000"/>
<ellipse cx="78.38" cy="19.91" rx="1.85" ry="1.05" fill="#000"/>
<ellipse cx="78.38" cy="25" rx="1.85" ry="1.05" fill="#000"/>
<ellipse cx="78.38" cy="30.09" rx="1.85" ry="1.05" fill="#000"/>
<ellipse cx="78.38" cy="35.18" rx="1.85" ry="1.05" fill="#000"/>
<ellipse cx="78.38" cy="40.27" rx="1.85" ry="1.05" fill="#000"/>
<ellipse cx="78.38" cy="45.37" rx="1.85" ry="1.05" fill="#000"/>
<ellipse cx="78.38" cy="50.45" rx="1.85" ry="1.05" fill="#000"/>
<ellipse cx="78.38" cy="55.54" rx="1.85" ry="1.05" fill="#000"/>
<ellipse cx="78.38" cy="60.63" rx="1.85" ry="1.05" fill="#000"/>
<ellipse cx="78.38" cy="65.73" rx="1.85" ry="1.05" fill="#000"/>
<ellipse cx="78.38" cy="70.81" rx="1.85" ry="1.05" fill="#000"/>
<ellipse cx="78.38" cy="75.91" rx="1.85" ry="1.05" fill="#000"/>
<ellipse cx="78.38" cy="81" rx="1.85" ry="1.05" fill="#000"/>
<ellipse cx="78.38" cy="86.09" rx="1.85" ry="1.05" fill="#000"/>
<ellipse cx="78.38" cy="91.18" rx="1.85" ry="1.05" fill="#000"/>
<ellipse cx="78.38" cy="96.27" rx="1.85" ry="1.05" fill="#000"/>
<ellipse cx="78.38" cy="101.36" rx="1.85" ry="1.05" fill="#000"/>
<ellipse cx="78.38" cy="106.45" rx="1.85" ry="1.05" fill="#000"/>
<ellipse cx="78.38" cy="111.53" rx="1.85" ry="1.05" fill="#000"/>
<ellipse cx="78.38" cy="116.62" rx="1.85" ry="1.05" fill="#000"/>
</g>
<linearGradient id="gt" x1="0" y1="0" x2="1" y2="0"><stop offset="0" stop-color="#47466c"/><stop offset="1" stop-color="#6a6999"/></linearGradient>
<linearGradient id="gu" gradientUnits="userSpaceOnUse" x1="102" y1="0" x2="648" y2="0"><stop offset="0" stop-color="#00ccff"/><stop offset="0.06" stop-color="#10c8fc"/><stop offset="0.30" stop-color="#7ab8ea"/><stop offset="0.5" stop-color="#c8b4e0"/><stop offset="0.70" stop-color="#ee6a80"/><stop offset="0.88" stop-color="#fa4e5a"/><stop offset="0.96" stop-color="#ff4646"/><stop offset="1" stop-color="#ff4646"/></linearGradient>
<linearGradient id="gl" gradientUnits="userSpaceOnUse" x1="102" y1="0" x2="648" y2="0"><stop offset="0" stop-color="#ff4646"/><stop offset="0.1" stop-color="#fc4a50"/><stop offset="0.35" stop-color="#e87090"/><stop offset="0.5" stop-color="#c8b0dc"/><stop offset="0.65" stop-color="#80a8e0"/><stop offset="0.88" stop-color="#26c2f6"/><stop offset="0.96" stop-color="#00ccff"/><stop offset="1" stop-color="#00ccff"/></linearGradient>
<linearGradient id="gg" gradientUnits="userSpaceOnUse" x1="262" y1="0" x2="488" y2="0"><stop offset="0" stop-color="#78b8ec"/><stop offset="0.25" stop-color="#8cbcea"/><stop offset="0.5" stop-color="#d8c8e8"/><stop offset="0.8" stop-color="#e48ca4"/><stop offset="1" stop-color="#e488a0"/></linearGradient>
<clipPath id="ctera"><rect x="55" y="524.8" width="70" height="8"/></clipPath>
<clipPath id="clab"><rect x="440" y="525.4" width="300" height="12"/></clipPath>
<radialGradient id="gk"><stop offset="0" stop-color="#9fb0dc"/><stop offset="0.6" stop-color="#a8b8e0"/><stop offset="1" stop-color="#dfe6f5"/></radialGradient>
</defs>
<rect x="0" y="0" width="756" height="547" fill="#fff"/>
<path d="M11.1 58.8 V18 A10 10 0 0 1 21.1 8 H729 A10 10 0 0 1 739 18 V58.8 Z" fill="url(#gt)"/>
<path d="M11.1 56 V18 A10 10 0 0 1 21.1 8 H31 V56 Z" fill="#cfcfe0"/>
<rect x="11.1" y="55.7" width="727.9" height="3.1" fill="#2b2a48"/>
<text x="55.2" y="29.8" font-family="Liberation Sans, sans-serif" font-size="20" fill="#fff" textLength="586.5" lengthAdjust="spacingAndGlyphs">3D Memory Expansion Architecture with Embedded Cooling Struct</text>
<text x="55.2" y="53.4" font-family="Liberation Sans, sans-serif" font-size="20" fill="#fff" textLength="551" lengthAdjust="spacingAndGlyphs">for HBM8 with Double-Sided Interposer [1/3]: GPU-HBM-HBM</text>
<rect x="11.1" y="55.7" width="727.9" height="3.1" fill="#2b2a48"/>
<rect x="644.7" y="14" width="86.2" height="36.8" fill="#fff"/>
<text x="687.8" y="29.4" font-family="Liberation Sans, sans-serif" font-size="11.9" font-weight="bold" fill="#000" text-anchor="middle">HBM8</text>
<text x="687.8" y="43.2" font-family="Liberation Sans, sans-serif" font-size="11.9" font-weight="bold" fill="#000" text-anchor="middle">Architecture</text>
<rect x="131.3" y="64.3" width="13.2" height="22" fill="#a6a6a6"/>
<rect x="131.3" y="477.5" width="13.2" height="21.3" fill="#a6a6a6"/>
<rect x="174.4" y="64.3" width="13.2" height="22" fill="#a6a6a6"/>
<rect x="174.4" y="477.5" width="13.2" height="21.3" fill="#a6a6a6"/>
<rect x="217.5" y="64.3" width="13.2" height="22" fill="#a6a6a6"/>
<rect x="217.5" y="477.5" width="13.2" height="21.3" fill="#a6a6a6"/>
<rect x="260.6" y="64.3" width="13.2" height="22" fill="#a6a6a6"/>
<rect x="260.6" y="477.5" width="13.2" height="21.3" fill="#a6a6a6"/>
<rect x="303.7" y="64.3" width="13.2" height="22" fill="#a6a6a6"/>
<rect x="303.7" y="477.5" width="13.2" height="21.3" fill="#a6a6a6"/>
<rect x="346.8" y="64.3" width="13.2" height="22" fill="#a6a6a6"/>
<rect x="346.8" y="477.5" width="13.2" height="21.3" fill="#a6a6a6"/>
<rect x="389.9" y="64.3" width="13.2" height="22" fill="#a6a6a6"/>
<rect x="389.9" y="477.5" width="13.2" height="21.3" fill="#a6a6a6"/>
<rect x="433" y="64.3" width="13.2" height="22" fill="#a6a6a6"/>
<rect x="433" y="477.5" width="13.2" height="21.3" fill="#a6a6a6"/>
<rect x="476.1" y="64.3" width="13.2" height="22" fill="#a6a6a6"/>
<rect x="476.1" y="477.5" width="13.2" height="21.3" fill="#a6a6a6"/>
<rect x="519.2" y="64.3" width="13.2" height="22" fill="#a6a6a6"/>
<rect x="519.2" y="477.5" width="13.2" height="21.3" fill="#a6a6a6"/>
<rect x="562.3" y="64.3" width="13.2" height="22" fill="#a6a6a6"/>
<rect x="562.3" y="477.5" width="13.2" height="21.3" fill="#a6a6a6"/>
<rect x="605.4" y="64.3" width="12.5" height="22" fill="#a6a6a6"/>
<rect x="605.4" y="477.5" width="12.5" height="21.3" fill="#a6a6a6"/>
<rect x="131.3" y="85.7" width="486.6" height="15.3" fill="#a6a6a6"/>
<rect x="131.3" y="462.1" width="486.6" height="16" fill="#a6a6a6"/>
<rect x="142.6" y="86.4" width="77.4" height="14.6" fill="#dcdcdc"/>
<text x="181.3" y="98" font-family="Liberation Sans, sans-serif" font-size="12" fill="#000" text-anchor="middle">Heat Sink</text>
<rect x="255.5" y="101.3" width="239.3" height="132.1" fill="#d9d9d9" stroke="#7f7f7f" stroke-width="1"/>
<rect x="91.4" y="236.4" width="567.1" height="28.9" fill="#daeef0" stroke="#788888" stroke-width="1" rx="1"/>
<rect x="91.4" y="297.3" width="567.1" height="28.9" fill="#daeef0" stroke="#788888" stroke-width="1" rx="1"/>
<rect x="91.1" y="269" width="567.7" height="24.6" fill="#7f7f7f" stroke="#757575" stroke-width="0.5" rx="1"/>
<path d="M102.4 234.9 H115 V243 H272 V257.7 H102.4 Z" fill="url(#gu)"/>
<path d="M477.9 243 H634.9 V235.1 H647.7 V257.7 H477.9 Z" fill="url(#gu)"/>
<path d="M102.4 305.3 H647.7 V329.6 H634.9 V319.7 H115 V329.6 H102.4 Z" fill="url(#gl)"/>
<path d="M262.1 257.7 V207.5 H487.9 V253.1 H477.9 V219.5 H272 V257.7 Z" fill="url(#gg)"/>
<rect x="162.15" y="236.2" width="3.6" height="29.1" fill="#687272"/>
<rect x="162.9" y="236.2" width="2.1" height="29.1" fill="#fff"/>
<rect x="162.15" y="269.2" width="3.6" height="24.3" fill="#585858"/>
<rect x="162.9" y="269.2" width="2.1" height="24.3" fill="#fff"/>
<rect x="162.15" y="297.3" width="3.6" height="28.9" fill="#687272"/>
<rect x="162.9" y="297.3" width="2.1" height="28.9" fill="#fff"/>
<rect x="184.37" y="236.2" width="3.6" height="29.1" fill="#687272"/>
<rect x="185.12" y="236.2" width="2.1" height="29.1" fill="#fff"/>
<rect x="184.37" y="269.2" width="3.6" height="24.3" fill="#585858"/>
<rect x="185.12" y="269.2" width="2.1" height="24.3" fill="#fff"/>
<rect x="184.37" y="297.3" width="3.6" height="28.9" fill="#687272"/>
<rect x="185.12" y="297.3" width="2.1" height="28.9" fill="#fff"/>
<rect x="206.59" y="236.2" width="3.6" height="29.1" fill="#687272"/>
<rect x="207.34" y="236.2" width="2.1" height="29.1" fill="#fff"/>
<rect x="206.59" y="269.2" width="3.6" height="24.3" fill="#585858"/>
<rect x="207.34" y="269.2" width="2.1" height="24.3" fill="#fff"/>
<rect x="206.59" y="297.3" width="3.6" height="28.9" fill="#687272"/>
<rect x="207.34" y="297.3" width="2.1" height="28.9" fill="#fff"/>
<rect x="228.81" y="236.2" width="3.6" height="29.1" fill="#687272"/>
<rect x="229.56" y="236.2" width="2.1" height="29.1" fill="#fff"/>
<rect x="228.81" y="269.2" width="3.6" height="24.3" fill="#585858"/>
<rect x="229.56" y="269.2" width="2.1" height="24.3" fill="#fff"/>
<rect x="228.81" y="297.3" width="3.6" height="28.9" fill="#687272"/>
<rect x="229.56" y="297.3" width="2.1" height="28.9" fill="#fff"/>
<rect x="251.03" y="236.2" width="3.6" height="29.1" fill="#687272"/>
<rect x="251.78" y="236.2" width="2.1" height="29.1" fill="#fff"/>
<rect x="251.03" y="269.2" width="3.6" height="24.3" fill="#585858"/>
<rect x="251.78" y="269.2" width="2.1" height="24.3" fill="#fff"/>
<rect x="251.03" y="297.3" width="3.6" height="28.9" fill="#687272"/>
<rect x="251.78" y="297.3" width="2.1" height="28.9" fill="#fff"/>
<rect x="273.25" y="236.2" width="3.6" height="29.1" fill="#687272"/>
<rect x="274" y="236.2" width="2.1" height="29.1" fill="#fff"/>
<rect x="273.25" y="269.2" width="3.6" height="24.3" fill="#585858"/>
<rect x="274" y="269.2" width="2.1" height="24.3" fill="#fff"/>
<rect x="273.25" y="297.3" width="3.6" height="28.9" fill="#687272"/>
<rect x="274" y="297.3" width="2.1" height="28.9" fill="#fff"/>
<rect x="295.47" y="236.2" width="3.6" height="29.1" fill="#687272"/>
<rect x="296.22" y="236.2" width="2.1" height="29.1" fill="#fff"/>
<rect x="295.47" y="269.2" width="3.6" height="24.3" fill="#585858"/>
<rect x="296.22" y="269.2" width="2.1" height="24.3" fill="#fff"/>
<rect x="295.47" y="297.3" width="3.6" height="28.9" fill="#687272"/>
<rect x="296.22" y="297.3" width="2.1" height="28.9" fill="#fff"/>
<rect x="317.69" y="236.2" width="3.6" height="29.1" fill="#687272"/>
<rect x="318.44" y="236.2" width="2.1" height="29.1" fill="#fff"/>
<rect x="317.69" y="269.2" width="3.6" height="24.3" fill="#585858"/>
<rect x="318.44" y="269.2" width="2.1" height="24.3" fill="#fff"/>
<rect x="317.69" y="297.3" width="3.6" height="28.9" fill="#687272"/>
<rect x="318.44" y="297.3" width="2.1" height="28.9" fill="#fff"/>
<rect x="339.91" y="236.2" width="3.6" height="29.1" fill="#687272"/>
<rect x="340.66" y="236.2" width="2.1" height="29.1" fill="#fff"/>
<rect x="339.91" y="269.2" width="3.6" height="24.3" fill="#585858"/>
<rect x="340.66" y="269.2" width="2.1" height="24.3" fill="#fff"/>
<rect x="339.91" y="297.3" width="3.6" height="28.9" fill="#687272"/>
<rect x="340.66" y="297.3" width="2.1" height="28.9" fill="#fff"/>
<rect x="362.13" y="236.2" width="3.6" height="29.1" fill="#687272"/>
<rect x="362.88" y="236.2" width="2.1" height="29.1" fill="#fff"/>
<rect x="362.13" y="269.2" width="3.6" height="24.3" fill="#585858"/>
<rect x="362.88" y="269.2" width="2.1" height="24.3" fill="#fff"/>
<rect x="362.13" y="297.3" width="3.6" height="28.9" fill="#687272"/>
<rect x="362.88" y="297.3" width="2.1" height="28.9" fill="#fff"/>
<rect x="384.35" y="236.2" width="3.6" height="29.1" fill="#687272"/>
<rect x="385.1" y="236.2" width="2.1" height="29.1" fill="#fff"/>
<rect x="384.35" y="269.2" width="3.6" height="24.3" fill="#585858"/>
<rect x="385.1" y="269.2" width="2.1" height="24.3" fill="#fff"/>
<rect x="384.35" y="297.3" width="3.6" height="28.9" fill="#687272"/>
<rect x="385.1" y="297.3" width="2.1" height="28.9" fill="#fff"/>
<rect x="406.57" y="236.2" width="3.6" height="29.1" fill="#687272"/>
<rect x="407.32" y="236.2" width="2.1" height="29.1" fill="#fff"/>
<rect x="406.57" y="269.2" width="3.6" height="24.3" fill="#585858"/>
<rect x="407.32" y="269.2" width="2.1" height="24.3" fill="#fff"/>
<rect x="406.57" y="297.3" width="3.6" height="28.9" fill="#687272"/>
<rect x="407.32" y="297.3" width="2.1" height="28.9" fill="#fff"/>
<rect x="428.79" y="236.2" width="3.6" height="29.1" fill="#687272"/>
<rect x="429.54" y="236.2" width="2.1" height="29.1" fill="#fff"/>
<rect x="428.79" y="269.2" width="3.6" height="24.3" fill="#585858"/>
<rect x="429.54" y="269.2" width="2.1" height="24.3" fill="#fff"/>
<rect x="428.79" y="297.3" width="3.6" height="28.9" fill="#687272"/>
<rect x="429.54" y="297.3" width="2.1" height="28.9" fill="#fff"/>
<rect x="451.01" y="236.2" width="3.6" height="29.1" fill="#687272"/>
<rect x="451.76" y="236.2" width="2.1" height="29.1" fill="#fff"/>
<rect x="451.01" y="269.2" width="3.6" height="24.3" fill="#585858"/>
<rect x="451.76" y="269.2" width="2.1" height="24.3" fill="#fff"/>
<rect x="451.01" y="297.3" width="3.6" height="28.9" fill="#687272"/>
<rect x="451.76" y="297.3" width="2.1" height="28.9" fill="#fff"/>
<rect x="473.23" y="236.2" width="3.6" height="29.1" fill="#687272"/>
<rect x="473.98" y="236.2" width="2.1" height="29.1" fill="#fff"/>
<rect x="473.23" y="269.2" width="3.6" height="24.3" fill="#585858"/>
<rect x="473.98" y="269.2" width="2.1" height="24.3" fill="#fff"/>
<rect x="473.23" y="297.3" width="3.6" height="28.9" fill="#687272"/>
<rect x="473.98" y="297.3" width="2.1" height="28.9" fill="#fff"/>
<rect x="495.45" y="236.2" width="3.6" height="29.1" fill="#687272"/>
<rect x="496.2" y="236.2" width="2.1" height="29.1" fill="#fff"/>
<rect x="495.45" y="269.2" width="3.6" height="24.3" fill="#585858"/>
<rect x="496.2" y="269.2" width="2.1" height="24.3" fill="#fff"/>
<rect x="495.45" y="297.3" width="3.6" height="28.9" fill="#687272"/>
<rect x="496.2" y="297.3" width="2.1" height="28.9" fill="#fff"/>
<rect x="517.67" y="236.2" width="3.6" height="29.1" fill="#687272"/>
<rect x="518.42" y="236.2" width="2.1" height="29.1" fill="#fff"/>
<rect x="517.67" y="269.2" width="3.6" height="24.3" fill="#585858"/>
<rect x="518.42" y="269.2" width="2.1" height="24.3" fill="#fff"/>
<rect x="517.67" y="297.3" width="3.6" height="28.9" fill="#687272"/>
<rect x="518.42" y="297.3" width="2.1" height="28.9" fill="#fff"/>
<rect x="539.89" y="236.2" width="3.6" height="29.1" fill="#687272"/>
<rect x="540.64" y="236.2" width="2.1" height="29.1" fill="#fff"/>
<rect x="539.89" y="269.2" width="3.6" height="24.3" fill="#585858"/>
<rect x="540.64" y="269.2" width="2.1" height="24.3" fill="#fff"/>
<rect x="539.89" y="297.3" width="3.6" height="28.9" fill="#687272"/>
<rect x="540.64" y="297.3" width="2.1" height="28.9" fill="#fff"/>
<rect x="562.11" y="236.2" width="3.6" height="29.1" fill="#687272"/>
<rect x="562.86" y="236.2" width="2.1" height="29.1" fill="#fff"/>
<rect x="562.11" y="269.2" width="3.6" height="24.3" fill="#585858"/>
<rect x="562.86" y="269.2" width="2.1" height="24.3" fill="#fff"/>
<rect x="562.11" y="297.3" width="3.6" height="28.9" fill="#687272"/>
<rect x="562.86" y="297.3" width="2.1" height="28.9" fill="#fff"/>
<rect x="584.33" y="236.2" width="3.6" height="29.1" fill="#687272"/>
<rect x="585.08" y="236.2" width="2.1" height="29.1" fill="#fff"/>
<rect x="584.33" y="269.2" width="3.6" height="24.3" fill="#585858"/>
<rect x="585.08" y="269.2" width="2.1" height="24.3" fill="#fff"/>
<rect x="584.33" y="297.3" width="3.6" height="28.9" fill="#687272"/>
<rect x="585.08" y="297.3" width="2.1" height="28.9" fill="#fff"/>
<rect x="133.35" y="223.2" width="104.5" height="10.3" fill="#a6a6a6" stroke="#606060" stroke-width="0.9" rx="0.6"/>
<rect x="511.7" y="223.2" width="104.9" height="10.3" fill="#a6a6a6" stroke="#606060" stroke-width="0.9" rx="0.6"/>
<rect x="514.5" y="226" width="15" height="7.5" fill="#bfbfbf" stroke="#6e6e6e" stroke-width="0.8"/>
<rect x="598.8" y="226" width="15" height="7.5" fill="#bfbfbf" stroke="#6e6e6e" stroke-width="0.8"/>
<rect x="133.55" y="329.7" width="104.3" height="10.5" fill="#a6a6a6" stroke="#606060" stroke-width="0.9" rx="0.6"/>
<rect x="136.35" y="329.7" width="15" height="7.8" fill="#bfbfbf" stroke="#6e6e6e" stroke-width="0.8"/>
<rect x="220.05" y="329.7" width="15" height="7.8" fill="#bfbfbf" stroke="#6e6e6e" stroke-width="0.8"/>
<rect x="259.7" y="329.7" width="104.3" height="10.5" fill="#a6a6a6" stroke="#606060" stroke-width="0.9" rx="0.6"/>
<rect x="262.5" y="329.7" width="15" height="7.8" fill="#bfbfbf" stroke="#6e6e6e" stroke-width="0.8"/>
<rect x="346.2" y="329.7" width="15" height="7.8" fill="#bfbfbf" stroke="#6e6e6e" stroke-width="0.8"/>
<rect x="385.9" y="329.7" width="104.3" height="10.5" fill="#a6a6a6" stroke="#606060" stroke-width="0.9" rx="0.6"/>
<rect x="388.7" y="329.7" width="15" height="7.8" fill="#bfbfbf" stroke="#6e6e6e" stroke-width="0.8"/>
<rect x="472.4" y="329.7" width="15" height="7.8" fill="#bfbfbf" stroke="#6e6e6e" stroke-width="0.8"/>
<rect x="511.9" y="329.7" width="104.3" height="10.5" fill="#a6a6a6" stroke="#606060" stroke-width="0.9" rx="0.6"/>
<rect x="514.7" y="329.7" width="15" height="7.8" fill="#bfbfbf" stroke="#6e6e6e" stroke-width="0.8"/>
<rect x="598.4" y="329.7" width="15" height="7.8" fill="#bfbfbf" stroke="#6e6e6e" stroke-width="0.8"/>
<rect x="137.63" y="266.1" width="8.2" height="2.7" fill="#a2a2a2" stroke="#6a6a6a" stroke-width="0.6"/>
<rect x="146.33" y="265.9" width="13.02" height="3.1" fill="#fff" stroke="#787878" stroke-width="0.4" rx="1.4"/>
<rect x="159.85" y="266.1" width="8.2" height="2.7" fill="#a2a2a2" stroke="#6a6a6a" stroke-width="0.6"/>
<rect x="168.55" y="265.9" width="13.02" height="3.1" fill="#fff" stroke="#787878" stroke-width="0.4" rx="1.4"/>
<rect x="182.07" y="266.1" width="8.2" height="2.7" fill="#a2a2a2" stroke="#6a6a6a" stroke-width="0.6"/>
<rect x="190.77" y="265.9" width="13.02" height="3.1" fill="#fff" stroke="#787878" stroke-width="0.4" rx="1.4"/>
<rect x="204.29" y="266.1" width="8.2" height="2.7" fill="#a2a2a2" stroke="#6a6a6a" stroke-width="0.6"/>
<rect x="212.99" y="265.9" width="13.02" height="3.1" fill="#fff" stroke="#787878" stroke-width="0.4" rx="1.4"/>
<rect x="226.51" y="266.1" width="8.2" height="2.7" fill="#a2a2a2" stroke="#6a6a6a" stroke-width="0.6"/>
<rect x="235.21" y="265.9" width="13.02" height="3.1" fill="#fff" stroke="#787878" stroke-width="0.4" rx="1.4"/>
<rect x="248.73" y="266.1" width="8.2" height="2.7" fill="#a2a2a2" stroke="#6a6a6a" stroke-width="0.6"/>
<rect x="257.43" y="265.9" width="13.02" height="3.1" fill="#fff" stroke="#787878" stroke-width="0.4" rx="1.4"/>
<rect x="270.95" y="266.1" width="8.2" height="2.7" fill="#a2a2a2" stroke="#6a6a6a" stroke-width="0.6"/>
<rect x="279.65" y="265.9" width="13.02" height="3.1" fill="#fff" stroke="#787878" stroke-width="0.4" rx="1.4"/>
<rect x="293.17" y="266.1" width="8.2" height="2.7" fill="#a2a2a2" stroke="#6a6a6a" stroke-width="0.6"/>
<rect x="301.87" y="265.9" width="13.02" height="3.1" fill="#fff" stroke="#787878" stroke-width="0.4" rx="1.4"/>
<rect x="315.39" y="266.1" width="8.2" height="2.7" fill="#a2a2a2" stroke="#6a6a6a" stroke-width="0.6"/>
<rect x="324.09" y="265.9" width="13.02" height="3.1" fill="#fff" stroke="#787878" stroke-width="0.4" rx="1.4"/>
<rect x="337.61" y="266.1" width="8.2" height="2.7" fill="#a2a2a2" stroke="#6a6a6a" stroke-width="0.6"/>
<rect x="346.31" y="265.9" width="13.02" height="3.1" fill="#fff" stroke="#787878" stroke-width="0.4" rx="1.4"/>
<rect x="359.83" y="266.1" width="8.2" height="2.7" fill="#a2a2a2" stroke="#6a6a6a" stroke-width="0.6"/>
<rect x="368.53" y="265.9" width="13.02" height="3.1" fill="#fff" stroke="#787878" stroke-width="0.4" rx="1.4"/>
<rect x="382.05" y="266.1" width="8.2" height="2.7" fill="#a2a2a2" stroke="#6a6a6a" stroke-width="0.6"/>
<rect x="390.75" y="265.9" width="13.02" height="3.1" fill="#fff" stroke="#787878" stroke-width="0.4" rx="1.4"/>
<rect x="404.27" y="266.1" width="8.2" height="2.7" fill="#a2a2a2" stroke="#6a6a6a" stroke-width="0.6"/>
<rect x="412.97" y="265.9" width="13.02" height="3.1" fill="#fff" stroke="#787878" stroke-width="0.4" rx="1.4"/>
<rect x="426.49" y="266.1" width="8.2" height="2.7" fill="#a2a2a2" stroke="#6a6a6a" stroke-width="0.6"/>
<rect x="435.19" y="265.9" width="13.02" height="3.1" fill="#fff" stroke="#787878" stroke-width="0.4" rx="1.4"/>
<rect x="448.71" y="266.1" width="8.2" height="2.7" fill="#a2a2a2" stroke="#6a6a6a" stroke-width="0.6"/>
<rect x="457.41" y="265.9" width="13.02" height="3.1" fill="#fff" stroke="#787878" stroke-width="0.4" rx="1.4"/>
<rect x="470.93" y="266.1" width="8.2" height="2.7" fill="#a2a2a2" stroke="#6a6a6a" stroke-width="0.6"/>
<rect x="479.63" y="265.9" width="13.02" height="3.1" fill="#fff" stroke="#787878" stroke-width="0.4" rx="1.4"/>
<rect x="493.15" y="266.1" width="8.2" height="2.7" fill="#a2a2a2" stroke="#6a6a6a" stroke-width="0.6"/>
<rect x="501.85" y="265.9" width="13.02" height="3.1" fill="#fff" stroke="#787878" stroke-width="0.4" rx="1.4"/>
<rect x="515.37" y="266.1" width="8.2" height="2.7" fill="#a2a2a2" stroke="#6a6a6a" stroke-width="0.6"/>
<rect x="524.07" y="265.9" width="13.02" height="3.1" fill="#fff" stroke="#787878" stroke-width="0.4" rx="1.4"/>
<rect x="537.59" y="266.1" width="8.2" height="2.7" fill="#a2a2a2" stroke="#6a6a6a" stroke-width="0.6"/>
<rect x="546.29" y="265.9" width="13.02" height="3.1" fill="#fff" stroke="#787878" stroke-width="0.4" rx="1.4"/>
<rect x="559.81" y="266.1" width="8.2" height="2.7" fill="#a2a2a2" stroke="#6a6a6a" stroke-width="0.6"/>
<rect x="568.51" y="265.9" width="13.02" height="3.1" fill="#fff" stroke="#787878" stroke-width="0.4" rx="1.4"/>
<rect x="582.03" y="266.1" width="8.2" height="2.7" fill="#a2a2a2" stroke="#6a6a6a" stroke-width="0.6"/>
<rect x="590.73" y="265.9" width="13.02" height="3.1" fill="#fff" stroke="#787878" stroke-width="0.4" rx="1.4"/>
<rect x="604.25" y="266.1" width="8.2" height="2.7" fill="#a2a2a2" stroke="#6a6a6a" stroke-width="0.6"/>
<rect x="137.33" y="293.5" width="8.8" height="3.5" fill="#7f7f7f"/>
<rect x="146.33" y="293.6" width="13.02" height="3.3" fill="#fff" stroke="#787878" stroke-width="0.4" rx="1.4"/>
<rect x="159.55" y="293.5" width="8.8" height="3.5" fill="#7f7f7f"/>
<rect x="168.55" y="293.6" width="13.02" height="3.3" fill="#fff" stroke="#787878" stroke-width="0.4" rx="1.4"/>
<rect x="181.77" y="293.5" width="8.8" height="3.5" fill="#7f7f7f"/>
<rect x="190.77" y="293.6" width="13.02" height="3.3" fill="#fff" stroke="#787878" stroke-width="0.4" rx="1.4"/>
<rect x="203.99" y="293.5" width="8.8" height="3.5" fill="#7f7f7f"/>
<rect x="212.99" y="293.6" width="13.02" height="3.3" fill="#fff" stroke="#787878" stroke-width="0.4" rx="1.4"/>
<rect x="226.21" y="293.5" width="8.8" height="3.5" fill="#7f7f7f"/>
<rect x="235.21" y="293.6" width="13.02" height="3.3" fill="#fff" stroke="#787878" stroke-width="0.4" rx="1.4"/>
<rect x="248.43" y="293.5" width="8.8" height="3.5" fill="#7f7f7f"/>
<rect x="257.43" y="293.6" width="13.02" height="3.3" fill="#fff" stroke="#787878" stroke-width="0.4" rx="1.4"/>
<rect x="270.65" y="293.5" width="8.8" height="3.5" fill="#7f7f7f"/>
<rect x="279.65" y="293.6" width="13.02" height="3.3" fill="#fff" stroke="#787878" stroke-width="0.4" rx="1.4"/>
<rect x="292.87" y="293.5" width="8.8" height="3.5" fill="#7f7f7f"/>
<rect x="301.87" y="293.6" width="13.02" height="3.3" fill="#fff" stroke="#787878" stroke-width="0.4" rx="1.4"/>
<rect x="315.09" y="293.5" width="8.8" height="3.5" fill="#7f7f7f"/>
<rect x="324.09" y="293.6" width="13.02" height="3.3" fill="#fff" stroke="#787878" stroke-width="0.4" rx="1.4"/>
<rect x="337.31" y="293.5" width="8.8" height="3.5" fill="#7f7f7f"/>
<rect x="346.31" y="293.6" width="13.02" height="3.3" fill="#fff" stroke="#787878" stroke-width="0.4" rx="1.4"/>
<rect x="359.53" y="293.5" width="8.8" height="3.5" fill="#7f7f7f"/>
<rect x="368.53" y="293.6" width="13.02" height="3.3" fill="#fff" stroke="#787878" stroke-width="0.4" rx="1.4"/>
<rect x="381.75" y="293.5" width="8.8" height="3.5" fill="#7f7f7f"/>
<rect x="390.75" y="293.6" width="13.02" height="3.3" fill="#fff" stroke="#787878" stroke-width="0.4" rx="1.4"/>
<rect x="403.97" y="293.5" width="8.8" height="3.5" fill="#7f7f7f"/>
<rect x="412.97" y="293.6" width="13.02" height="3.3" fill="#fff" stroke="#787878" stroke-width="0.4" rx="1.4"/>
<rect x="426.19" y="293.5" width="8.8" height="3.5" fill="#7f7f7f"/>
<rect x="435.19" y="293.6" width="13.02" height="3.3" fill="#fff" stroke="#787878" stroke-width="0.4" rx="1.4"/>
<rect x="448.41" y="293.5" width="8.8" height="3.5" fill="#7f7f7f"/>
<rect x="457.41" y="293.6" width="13.02" height="3.3" fill="#fff" stroke="#787878" stroke-width="0.4" rx="1.4"/>
<rect x="470.63" y="293.5" width="8.8" height="3.5" fill="#7f7f7f"/>
<rect x="479.63" y="293.6" width="13.02" height="3.3" fill="#fff" stroke="#787878" stroke-width="0.4" rx="1.4"/>
<rect x="492.85" y="293.5" width="8.8" height="3.5" fill="#7f7f7f"/>
<rect x="501.85" y="293.6" width="13.02" height="3.3" fill="#fff" stroke="#787878" stroke-width="0.4" rx="1.4"/>
<rect x="515.07" y="293.5" width="8.8" height="3.5" fill="#7f7f7f"/>
<rect x="524.07" y="293.6" width="13.02" height="3.3" fill="#fff" stroke="#787878" stroke-width="0.4" rx="1.4"/>
<rect x="537.29" y="293.5" width="8.8" height="3.5" fill="#7f7f7f"/>
<rect x="546.29" y="293.6" width="13.02" height="3.3" fill="#fff" stroke="#787878" stroke-width="0.4" rx="1.4"/>
<rect x="559.51" y="293.5" width="8.8" height="3.5" fill="#7f7f7f"/>
<rect x="568.51" y="293.6" width="13.02" height="3.3" fill="#fff" stroke="#787878" stroke-width="0.4" rx="1.4"/>
<rect x="581.73" y="293.5" width="8.8" height="3.5" fill="#7f7f7f"/>
<rect x="590.73" y="293.6" width="13.02" height="3.3" fill="#fff" stroke="#787878" stroke-width="0.4" rx="1.4"/>
<rect x="603.95" y="293.5" width="8.8" height="3.5" fill="#7f7f7f"/>
<rect x="137.33" y="233.5" width="8.8" height="3.1" fill="#7f7f7f"/>
<rect x="146.33" y="233.6" width="13.02" height="2.9" fill="#fff" stroke="#787878" stroke-width="0.4" rx="1.4"/>
<rect x="159.55" y="233.5" width="8.8" height="3.1" fill="#7f7f7f"/>
<rect x="168.55" y="233.6" width="13.02" height="2.9" fill="#fff" stroke="#787878" stroke-width="0.4" rx="1.4"/>
<rect x="181.77" y="233.5" width="8.8" height="3.1" fill="#7f7f7f"/>
<rect x="190.77" y="233.6" width="13.02" height="2.9" fill="#fff" stroke="#787878" stroke-width="0.4" rx="1.4"/>
<rect x="203.99" y="233.5" width="8.8" height="3.1" fill="#7f7f7f"/>
<rect x="212.99" y="233.6" width="13.02" height="2.9" fill="#fff" stroke="#787878" stroke-width="0.4" rx="1.4"/>
<rect x="226.21" y="233.5" width="8.8" height="3.1" fill="#7f7f7f"/>
<rect x="270.65" y="233.3" width="8.8" height="3.3" fill="#7f7f7f"/>
<rect x="279.65" y="233.4" width="13.02" height="3.1" fill="#fff" stroke="#787878" stroke-width="0.4" rx="1.4"/>
<rect x="292.87" y="233.3" width="8.8" height="3.3" fill="#7f7f7f"/>
<rect x="301.87" y="233.4" width="13.02" height="3.1" fill="#fff" stroke="#787878" stroke-width="0.4" rx="1.4"/>
<rect x="315.09" y="233.3" width="8.8" height="3.3" fill="#7f7f7f"/>
<rect x="324.09" y="233.4" width="13.02" height="3.1" fill="#fff" stroke="#787878" stroke-width="0.4" rx="1.4"/>
<rect x="337.31" y="233.3" width="8.8" height="3.3" fill="#7f7f7f"/>
<rect x="346.31" y="233.4" width="13.02" height="3.1" fill="#fff" stroke="#787878" stroke-width="0.4" rx="1.4"/>
<rect x="359.53" y="233.3" width="8.8" height="3.3" fill="#7f7f7f"/>
<rect x="368.53" y="233.4" width="13.02" height="3.1" fill="#fff" stroke="#787878" stroke-width="0.4" rx="1.4"/>
<rect x="381.75" y="233.3" width="8.8" height="3.3" fill="#7f7f7f"/>
<rect x="390.75" y="233.4" width="13.02" height="3.1" fill="#fff" stroke="#787878" stroke-width="0.4" rx="1.4"/>
<rect x="403.97" y="233.3" width="8.8" height="3.3" fill="#7f7f7f"/>
<rect x="412.97" y="233.4" width="13.02" height="3.1" fill="#fff" stroke="#787878" stroke-width="0.4" rx="1.4"/>
<rect x="426.19" y="233.3" width="8.8" height="3.3" fill="#7f7f7f"/>
<rect x="435.19" y="233.4" width="13.02" height="3.1" fill="#fff" stroke="#787878" stroke-width="0.4" rx="1.4"/>
<rect x="448.41" y="233.3" width="8.8" height="3.3" fill="#7f7f7f"/>
<rect x="457.41" y="233.4" width="13.02" height="3.1" fill="#fff" stroke="#787878" stroke-width="0.4" rx="1.4"/>
<rect x="470.63" y="233.3" width="8.8" height="3.3" fill="#7f7f7f"/>
<rect x="515.07" y="233.5" width="8.8" height="3.1" fill="#7f7f7f"/>
<rect x="524.07" y="233.6" width="13.02" height="2.9" fill="#fff" stroke="#787878" stroke-width="0.4" rx="1.4"/>
<rect x="537.29" y="233.5" width="8.8" height="3.1" fill="#7f7f7f"/>
<rect x="546.29" y="233.6" width="13.02" height="2.9" fill="#fff" stroke="#787878" stroke-width="0.4" rx="1.4"/>
<rect x="559.51" y="233.5" width="8.8" height="3.1" fill="#7f7f7f"/>
<rect x="568.51" y="233.6" width="13.02" height="2.9" fill="#fff" stroke="#787878" stroke-width="0.4" rx="1.4"/>
<rect x="581.73" y="233.5" width="8.8" height="3.1" fill="#7f7f7f"/>
<rect x="590.73" y="233.6" width="13.02" height="2.9" fill="#fff" stroke="#787878" stroke-width="0.4" rx="1.4"/>
<rect x="603.95" y="233.5" width="8.8" height="3.1" fill="#7f7f7f"/>
<rect x="137.33" y="326.3" width="8.8" height="3.3" fill="#7f7f7f"/>
<rect x="146.33" y="326.4" width="13.02" height="3.1" fill="#fff" stroke="#787878" stroke-width="0.4" rx="1.4"/>
<rect x="159.55" y="326.3" width="8.8" height="3.3" fill="#7f7f7f"/>
<rect x="168.55" y="326.4" width="13.02" height="3.1" fill="#fff" stroke="#787878" stroke-width="0.4" rx="1.4"/>
<rect x="181.77" y="326.3" width="8.8" height="3.3" fill="#7f7f7f"/>
<rect x="190.77" y="326.4" width="13.02" height="3.1" fill="#fff" stroke="#787878" stroke-width="0.4" rx="1.4"/>
<rect x="203.99" y="326.3" width="8.8" height="3.3" fill="#7f7f7f"/>
<rect x="212.99" y="326.4" width="13.02" height="3.1" fill="#fff" stroke="#787878" stroke-width="0.4" rx="1.4"/>
<rect x="226.21" y="326.3" width="8.8" height="3.3" fill="#7f7f7f"/>
<rect x="248.73" y="326.6" width="8.2" height="2.8" fill="#a6a6a6" stroke="#6a6a6a" stroke-width="0.6"/>
<rect x="270.65" y="326.3" width="8.8" height="3.3" fill="#7f7f7f"/>
<rect x="279.65" y="326.4" width="13.02" height="3.1" fill="#fff" stroke="#787878" stroke-width="0.4" rx="1.4"/>
<rect x="292.87" y="326.3" width="8.8" height="3.3" fill="#7f7f7f"/>
<rect x="301.87" y="326.4" width="13.02" height="3.1" fill="#fff" stroke="#787878" stroke-width="0.4" rx="1.4"/>
<rect x="315.09" y="326.3" width="8.8" height="3.3" fill="#7f7f7f"/>
<rect x="324.09" y="326.4" width="13.02" height="3.1" fill="#fff" stroke="#787878" stroke-width="0.4" rx="1.4"/>
<rect x="337.31" y="326.3" width="8.8" height="3.3" fill="#7f7f7f"/>
<rect x="346.31" y="326.4" width="13.02" height="3.1" fill="#fff" stroke="#787878" stroke-width="0.4" rx="1.4"/>
<rect x="359.53" y="326.3" width="8.8" height="3.3" fill="#7f7f7f"/>
<rect x="381.75" y="326.3" width="8.8" height="3.3" fill="#7f7f7f"/>
<rect x="390.75" y="326.4" width="13.02" height="3.1" fill="#fff" stroke="#787878" stroke-width="0.4" rx="1.4"/>
<rect x="403.97" y="326.3" width="8.8" height="3.3" fill="#7f7f7f"/>
<rect x="412.97" y="326.4" width="13.02" height="3.1" fill="#fff" stroke="#787878" stroke-width="0.4" rx="1.4"/>
<rect x="426.19" y="326.3" width="8.8" height="3.3" fill="#7f7f7f"/>
<rect x="435.19" y="326.4" width="13.02" height="3.1" fill="#fff" stroke="#787878" stroke-width="0.4" rx="1.4"/>
<rect x="448.41" y="326.3" width="8.8" height="3.3" fill="#7f7f7f"/>
<rect x="457.41" y="326.4" width="13.02" height="3.1" fill="#fff" stroke="#787878" stroke-width="0.4" rx="1.4"/>
<rect x="470.63" y="326.3" width="8.8" height="3.3" fill="#7f7f7f"/>
<rect x="493.15" y="326.6" width="8.2" height="2.8" fill="#a6a6a6" stroke="#6a6a6a" stroke-width="0.6"/>
<rect x="515.07" y="326.3" width="8.8" height="3.3" fill="#7f7f7f"/>
<rect x="524.07" y="326.4" width="13.02" height="3.1" fill="#fff" stroke="#787878" stroke-width="0.4" rx="1.4"/>
<rect x="537.29" y="326.3" width="8.8" height="3.3" fill="#7f7f7f"/>
<rect x="546.29" y="326.4" width="13.02" height="3.1" fill="#fff" stroke="#787878" stroke-width="0.4" rx="1.4"/>
<rect x="559.51" y="326.3" width="8.8" height="3.3" fill="#7f7f7f"/>
<rect x="568.51" y="326.4" width="13.02" height="3.1" fill="#fff" stroke="#787878" stroke-width="0.4" rx="1.4"/>
<rect x="581.73" y="326.3" width="8.8" height="3.3" fill="#7f7f7f"/>
<rect x="590.73" y="326.4" width="13.02" height="3.1" fill="#fff" stroke="#787878" stroke-width="0.4" rx="1.4"/>
<rect x="603.95" y="326.3" width="8.8" height="3.3" fill="#7f7f7f"/>
<use href="#stkT" x="140.2" y="101.2"/>
<use href="#stkT" x="518.55" y="101.2"/>
<use href="#stkB" x="140.2" y="341.0"/>
<use href="#stkB" x="266.35" y="341.0"/>
<use href="#stkB" x="392.55" y="341.0"/>
<use href="#stkB" x="518.55" y="341.0"/>
<rect x="154" y="156.6" width="63.6" height="31.5" fill="#fff" fill-opacity="0.8"/>
<text x="185.7" y="169.7" font-family="Liberation Sans, sans-serif" font-size="12" fill="#000" text-anchor="middle">HBM</text>
<text x="185.7" y="184.2" font-family="Liberation Sans, sans-serif" font-size="12" fill="#000" text-anchor="middle">Core Die</text>
<rect x="154" y="381.2" width="63.6" height="31.6" fill="#fff" fill-opacity="0.8"/>
<text x="185.7" y="394.6" font-family="Liberation Sans, sans-serif" font-size="12" fill="#000" text-anchor="middle">HBM</text>
<text x="185.7" y="408.9" font-family="Liberation Sans, sans-serif" font-size="12" fill="#000" text-anchor="middle">Core Die</text>
<rect x="348.4" y="156.9" width="53.1" height="17.6" fill="#fff" fill-opacity="0.85"/>
<text x="375" y="170.3" font-family="Liberation Sans, sans-serif" font-size="12" fill="#000" text-anchor="middle">GPU</text>
<rect x="147.4" y="223.4" width="82.6" height="9.8" fill="#fff" fill-opacity="0.7"/>
<text x="188.6" y="233.3" font-family="Liberation Sans, sans-serif" font-size="12" fill="#000" text-anchor="middle">HBM Base Die</text>
<rect x="143.5" y="329.4" width="84.9" height="10.7" fill="#fff" fill-opacity="0.6"/>
<text x="185.8" y="340.1" font-family="Liberation Sans, sans-serif" font-size="12" fill="#000" text-anchor="middle">HBM Base Die</text>
<rect x="118.8" y="254.1" width="139.1" height="11.5" fill="#fff" fill-opacity="0.85"/>
<text x="188.1" y="263.8" font-family="Liberation Sans, sans-serif" font-size="12" fill="#000" text-anchor="middle">Glass/Silicon Interposer</text>
<rect x="118.7" y="298.8" width="146.1" height="10.6" fill="#fff" fill-opacity="0.85"/>
<text x="191.85" y="308.5" font-family="Liberation Sans, sans-serif" font-size="12" fill="#000" text-anchor="middle">Glass/Silicon Interposer</text>
<rect x="118.6" y="276.9" width="61.9" height="11" fill="#fff" fill-opacity="0.7"/>
<text x="149.7" y="286.6" font-family="Liberation Sans, sans-serif" font-size="12" fill="#000" text-anchor="middle">PCB</text>
<rect x="308.2" y="207.6" width="133.3" height="11.8" fill="#fff" fill-opacity="0.7"/>
<text x="375.3" y="218.1" font-family="Liberation Sans, sans-serif" font-size="12" fill="#000" text-anchor="middle">Embedded Cooling</text>
<rect x="308.7" y="308" width="132.4" height="10.1" fill="#fff" fill-opacity="0.7"/>
<text x="375.2" y="317" font-family="Liberation Sans, sans-serif" font-size="12" fill="#000" text-anchor="middle">Embedded Cooling</text>
<rect x="514.1" y="98.7" width="100.3" height="129" fill="none" stroke="#0000ff" stroke-width="1.9" stroke-dasharray="5.5 2.0"/>
<rect x="514.1" y="337.5" width="100.3" height="129.8" fill="none" stroke="#ff0000" stroke-width="1.9" stroke-dasharray="5.5 2.0"/>
<text x="626.4" y="165.6" font-family="Liberation Sans, sans-serif" font-size="13.7" fill="#0000ff" textLength="43.5" lengthAdjust="spacingAndGlyphs">240GB</text>
<text x="626.4" y="405.1" font-family="Liberation Sans, sans-serif" font-size="13.7" fill="#ff0000" textLength="43.5" lengthAdjust="spacingAndGlyphs">240GB</text>
<text x="109.1" y="213" font-family="Liberation Sans, sans-serif" font-size="12" fill="#000" text-anchor="middle" >Inlet</text>
<path d="M104.3 219.1 V223.8 H97.8 V229.6 M113.4 219.1 V223.8 H120.4 V229.6" fill="none" stroke="#000" stroke-width="1.7"/>
<path d="M108.7 215.2 V226.5" fill="none" stroke="#000" stroke-width="1.1"/><path d="M105.8 225.2 H111.6 L108.7 229.9 Z" fill="#000"/>
<text x="639.3" y="214.8" font-family="Liberation Sans, sans-serif" font-size="12" fill="#000" text-anchor="middle" >Outlet</text>
<path d="M634.7 220.5 V225.5 H627.7 V230.8 M643.7 220.5 V225.5 H650.7 V230.8" fill="none" stroke="#000" stroke-width="1.7"/>
<path d="M638.8 231.2 V221" fill="none" stroke="#000" stroke-width="1.1"/><path d="M636 222.4 H641.8 L638.9 216.6 Z" fill="#000"/>
<text x="107.8" y="365.7" font-family="Liberation Sans, sans-serif" font-size="12" fill="#000" text-anchor="middle" >Outlet</text>
<path d="M96.1 336.3 V341 H103.1 V346.7 M119.2 336.3 V341 H112.2 V346.7" fill="none" stroke="#000" stroke-width="1.7"/>
<path d="M107.6 335.6 V346.6" fill="none" stroke="#000" stroke-width="1.1"/><path d="M104.7 345.6 H110.5 L107.6 350.5 Z" fill="#000"/>
<text x="641.3" y="365.6" font-family="Liberation Sans, sans-serif" font-size="12" fill="#000" text-anchor="middle" >Inlet</text>
<path d="M629.8 336.3 V341 H636.8 V346.7 M652.6 336.3 V341 H645.6 V346.7" fill="none" stroke="#000" stroke-width="1.7"/>
<path d="M641 350.3 V340" fill="none" stroke="#000" stroke-width="1.1"/><path d="M638.1 341 H643.9 L641 335.8 Z" fill="#000"/>
<rect x="18.2" y="500.5" width="25.6" height="44.2" fill="#46467a"/>
<rect x="21.9" y="499.2" width="720" height="25.6" fill="#fff"/>
<text x="39.3" y="513" font-family="Liberation Sans, sans-serif" font-size="13.1" fill="#000" textLength="671" lengthAdjust="spacingAndGlyphs">&lt; 3D Memory Expansion Architecture with Embedded Cooling for HBM8 with Double-Sided Interposer using HBM &gt;</text>
<path d="M19 534.9 C26 535.5 30 532 32.4 524.8" fill="none" stroke="#fff" stroke-width="1.5"/>
<path d="M43.8 524.8 L50 537.6 L43.8 537.6 Z" fill="#46467a"/>
<path d="M41.5 524.8 L48.6 538.2" fill="none" stroke="#fff" stroke-width="2"/>
<path d="M44.6 524.8 L50.2 538 C50.9 539.2 51.6 538.2 52.3 537.2 C53.4 535.6 54.6 535.3 56.5 535.3 H333" fill="none" stroke="#3c3c6e" stroke-width="2"/>
<path d="M416 535.3 H719" fill="none" stroke="#3c3c6e" stroke-width="2"/>
<g fill="#46467a"><rect x="62" y="524.8" width="4.8" height="6.4"/><path d="M73.9 524.8 H78.7 V527 H85.8 V531.2 H73.9 Z"/><rect x="88.8" y="524.8" width="4.8" height="6.4"/><path d="M95.3 524.8 H100.6 L104 531.2 H98.4 Z"/><path d="M105.4 524.8 H116.2 L118.7 531.2 H113.4 L112.6 528.8 H109 L108.2 531.2 H102.9 Z"/></g>
<text x="25.9" y="541.8" font-family="Liberation Sans, sans-serif" font-size="4.5" font-weight="bold" textLength="99.2" lengthAdjust="spacingAndGlyphs" fill="#1a1a2a"><tspan fill="#fff">TeraByte</tspan> Interconnection and Package Laboratory</text>
<g clip-path="url(#clab)"></g>
<ellipse cx="374.6" cy="535.8" rx="41" ry="1.5" fill="url(#gk)"/>
<g clip-path="url(#clab)"><text x="470.8" y="530.8" font-family="Liberation Sans, sans-serif" font-size="10.4" font-weight="bold" fill="#111" textLength="215.2" lengthAdjust="spacingAndGlyphs">TeraByte Interconnection and Package Laboratory</text><text x="706" y="530.8" font-family="Liberation Sans, sans-serif" font-size="10" fill="#111">94</text></g>
<clipPath id="ck"><rect x="340" y="524.9" width="70" height="7"/></clipPath>
<g fill="#1c5a9e"><rect x="347.9" y="525.6" width="4.2" height="6.4"/><path d="M352.1 525.6 H356.3 L361.6 532 H356.6 Z"/><path d="M362.2 525.6 H366.4 L369.4 532 H365.2 L364.6 530.6 H361.8 L360.9 532 H357.2 Z"/><rect x="371" y="525.6" width="4.7" height="6.4"/><path d="M377.6 529.6 H388.2 C389.8 529.6 389.8 527.6 388.2 527.6 H384.6 V525.6 H389.6 C395.8 525.6 395.8 532 389.6 532 H377.6 Z"/><rect x="397.3" y="525.6" width="4.7" height="6.4"/></g>
<rect x="614" y="508" width="141.5" height="40" rx="20" fill="#000" fill-opacity="0.83"/>
<circle cx="633.5" cy="527.8" r="14.3" fill="#fff" fill-opacity="0.04" stroke="#fff" stroke-opacity="0.2" stroke-width="1"/>
<circle cx="668.7" cy="527.8" r="14.3" fill="#fff" fill-opacity="0.04" stroke="#fff" stroke-opacity="0.2" stroke-width="1"/>
<path d="M636.2 523.4 L631.2 527.9 L636.2 532.5" fill="none" stroke="#fff" stroke-width="2.3"/>
<path d="M666.9 523.4 L671.9 527.9 L666.9 532.5" fill="none" stroke="#fff" stroke-width="2.3"/>
<text y="534.2" font-family="Liberation Sans, sans-serif" font-size="17.6" font-weight="bold" fill="#fff"><tspan x="697.4">3</tspan><tspan x="715.2">/</tspan><tspan x="730.8">3</tspan></text>
</svg>
</body></html>
